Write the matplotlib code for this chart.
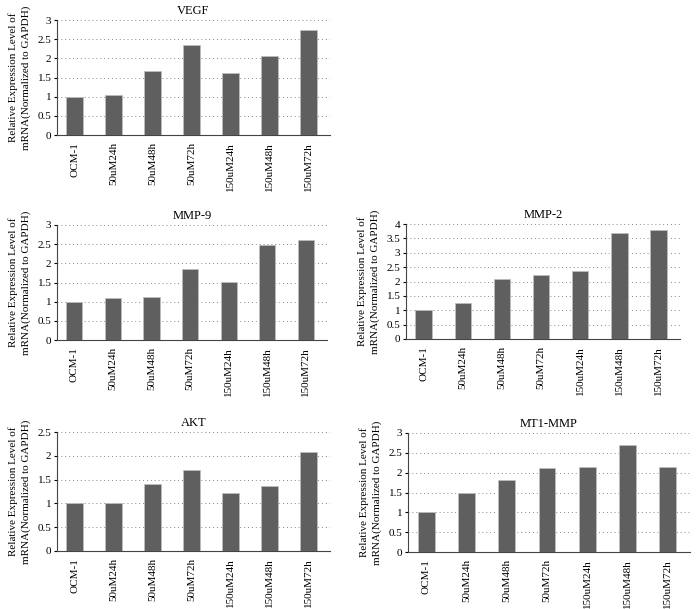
import matplotlib.pyplot as plt

plt.rcParams['font.family'] = ['Liberation Serif', 'DejaVu Serif']

groups = ["OCM-1", "50uM24h", "50uM48h", "50uM72h", "150uM24h", "150uM48h", "150uM72h"]

vegf = [1.00, 1.04, 1.67, 2.34, 1.63, 2.07, 2.74]
mmp9 = [1.00, 1.09, 1.12, 1.85, 1.52, 2.47, 2.61]
mmp2 = [1.00, 1.24, 2.10, 2.23, 2.35, 3.70, 3.79]
akt = [1.00, 1.00, 1.41, 1.70, 1.21, 1.36, 2.07]
mt1mmp = [1.00, 1.50, 1.81, 2.13, 2.15, 2.71, 2.15]

W, H = 700, 609
fig = plt.figure(figsize=(W / 100, H / 100), dpi=100)

# (title, values, ymax, ystep, left, right, top, bottom) in pixels
panels = [
    ("VEGF", vegf, 3, 0.5, 57, 330, 20, 135),
    ("MMP-9", mmp9, 3, 0.5, 57, 327, 225, 340),
    ("MMP-2", mmp2, 4, 0.5, 406, 680, 224, 339),
    ("AKT", akt, 2.5, 0.5, 57, 330, 432, 551),
    ("MT1-MMP", mt1mmp, 3, 0.5, 408, 690, 433, 552),
]

for title, vals, ymax, step, l, r, t, b in panels:
    ax = fig.add_axes([l / W, 1 - b / H, (r - l) / W, (b - t) / H])
    x = range(len(groups))
    ax.bar(x, vals, width=0.42, color="#5f5f5f", edgecolor="#bdbdbd", linewidth=0.6, zorder=3)
    ax.set_xlim(-0.45, len(groups) - 0.45)
    ax.set_ylim(0, ymax)
    ticks = [i * step for i in range(int(round(ymax / step)) + 1)]
    ax.set_yticks(ticks)
    ax.set_yticklabels([f"{v:g}" for v in ticks], fontsize=8)
    ax.set_xticks(list(x))
    ax.set_xticklabels(groups, rotation=90, fontsize=8)
    ax.tick_params(axis="x", length=0, pad=5)
    ax.tick_params(axis="y", length=2, pad=2)
    ax.yaxis.grid(True, linestyle=(0, (1, 3)), color="#888888", linewidth=0.7, zorder=0)
    ax.set_axisbelow(True)
    for s in ("top", "right"):
        ax.spines[s].set_visible(False)
    ax.spines["left"].set_color("#444444")
    ax.spines["bottom"].set_color("#444444")
    ax.set_title(title, fontsize=9, pad=4)
    ax.set_ylabel("Relative Expression Level of\nmRNA(Normalized to GAPDH)", fontsize=8, labelpad=5, linespacing=1.45)

fig.savefig("out.png", dpi=100)
